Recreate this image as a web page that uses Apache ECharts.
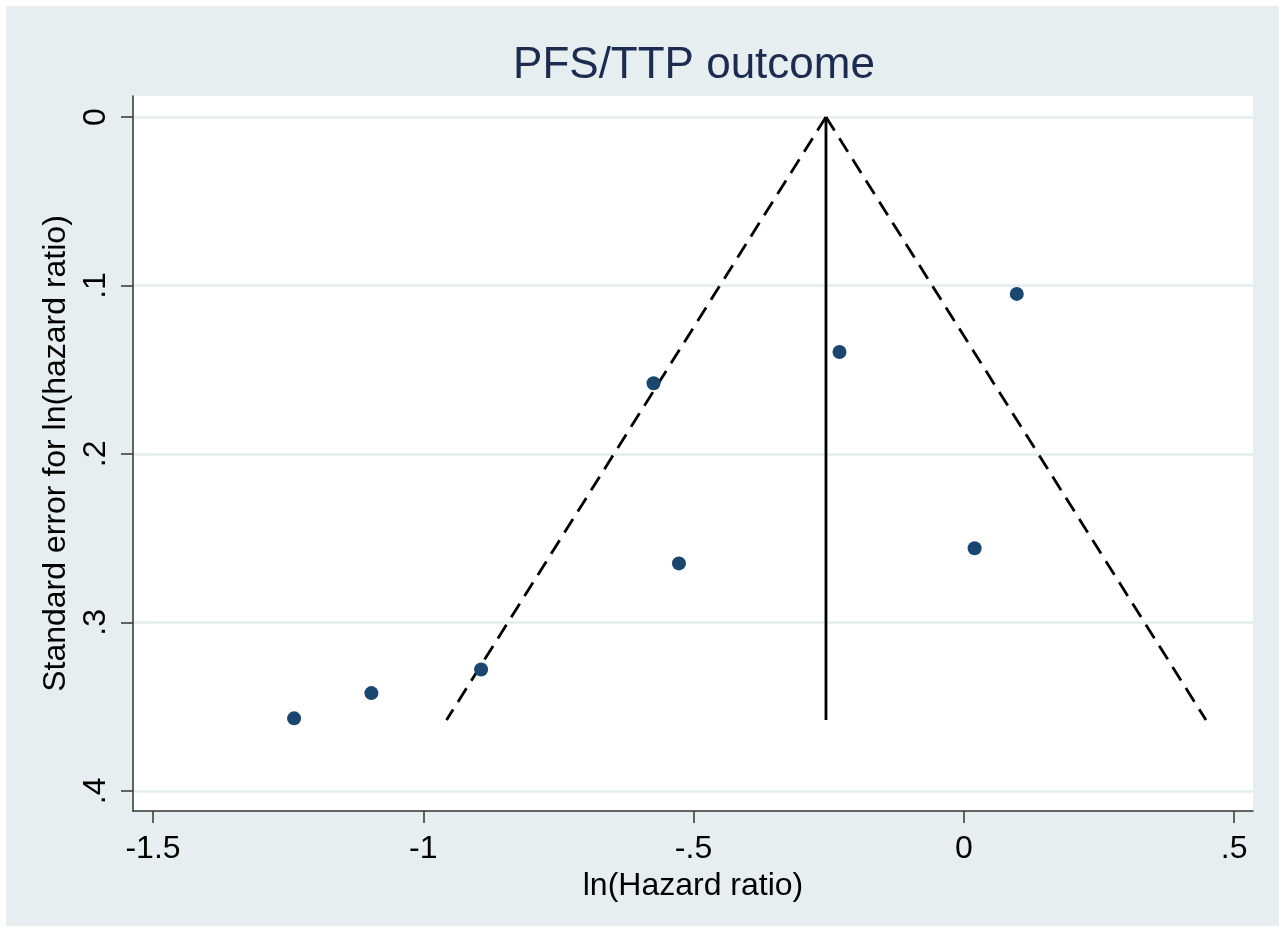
<!DOCTYPE html>
<html>
<head>
<meta charset="utf-8">
<script src="https://cdn.jsdelivr.net/npm/echarts@6/dist/echarts.min.js"></script>
<style>
html,body{margin:0;padding:0;background:#ffffff;}
#chart{width:1285px;height:932px;}
</style>
</head>
<body>
<div id="chart"></div>
<script>
// Study estimates: ln(hazard ratio) and its standard error
const lnHR = [-1.239, -1.096, -0.893, -0.574, -0.527, -0.230, 0.020, 0.098];
const seLnHR = [0.357, 0.342, 0.328, 0.158, 0.265, 0.1395, 0.256, 0.105];

// Pooled estimate and pseudo 95% confidence limits (funnel)
const pooled = -0.255;
const funnelBottomSE = 0.358;
const funnelLeftX = -0.957;
const funnelRightX = 0.448;

// Tick values
const xTicks = [-1.5, -1, -0.5, 0, 0.5];
const yTicks = [0, 0.1, 0.2, 0.3, 0.4];

const fmt = v => String(v).replace(/^(-?)0\./, '$1.');

const points = lnHR.map((x, i) => [x, seLnHR[i]]);
const leftLimit = [[pooled, 0], [funnelLeftX, funnelBottomSE]];
const rightLimit = [[pooled, 0], [funnelRightX, funnelBottomSE]];
const pooledLine = [[pooled, 0], [pooled, funnelBottomSE]];

const FONT = '"Liberation Sans", Arial, sans-serif';
const chart = echarts.init(document.getElementById('chart'), null, {renderer: 'canvas'});
chart.setOption({
  animation: false,
  backgroundColor: '#ffffff',
  graphic: [{
    type: 'rect', z: -100, silent: true,
    shape: {x: 6, y: 6, width: 1273, height: 920},
    style: {fill: '#e6eef0'}
  }],
  title: {
    text: 'PFS/TTP outcome',
    left: 694, top: 44, textAlign: 'center', padding: 0,
    textStyle: {fontFamily: FONT, fontSize: 44, fontWeight: 'normal', color: '#1c2b50'}
  },
  grid: {
    left: 133, right: 32, top: 96, bottom: 121,
    show: true, backgroundColor: '#ffffff', borderWidth: 0, containLabel: false
  },
  xAxis: {
    type: 'value', min: -1.537, max: 0.535,
    name: 'ln(Hazard ratio)', nameLocation: 'middle', nameGap: 46,
    nameTextStyle: {fontFamily: FONT, fontSize: 32, color: '#000'},
    axisLine: {onZero: false, lineStyle: {color: '#333', width: 1.5}},
    axisTick: {show: true, length: 12, customValues: xTicks, lineStyle: {color: '#333', width: 1.5}},
    axisLabel: {customValues: xTicks, formatter: fmt, margin: 22, fontFamily: FONT, fontSize: 32, color: '#000'},
    splitLine: {show: false}
  },
  yAxis: {
    type: 'value', inverse: true, min: -0.0125, max: 0.412,
    name: 'Standard error for ln(hazard ratio)', nameLocation: 'middle', nameGap: 54,
    nameTextStyle: {fontFamily: FONT, fontSize: 32, color: '#000'},
    axisLine: {show: true, onZero: false, lineStyle: {color: '#333', width: 1.5}},
    axisTick: {show: true, length: 12, customValues: yTicks, lineStyle: {color: '#333', width: 1.5}},
    axisLabel: {customValues: yTicks, formatter: fmt, rotate: 90, margin: 21, fontFamily: FONT, fontSize: 32, color: '#000'},
    splitLine: {show: true, lineStyle: {color: '#e4edef', width: 2.5}}
  },
  series: [
    {
      type: 'line', data: leftLimit, symbol: 'none', silent: true,
      lineStyle: {color: '#000', width: 2.8, type: [16, 9]}
    },
    {
      type: 'line', data: rightLimit, symbol: 'none', silent: true,
      lineStyle: {color: '#000', width: 2.8, type: [16, 9]}
    },
    {
      type: 'line', data: pooledLine, symbol: 'none', silent: true,
      lineStyle: {color: '#000', width: 2.8}
    },
    {
      type: 'scatter', data: points, symbol: 'circle', symbolSize: 14, silent: true,
      itemStyle: {color: '#1a476f', opacity: 1}, z: 5
    }
  ]
});
</script>
</body>
</html>
